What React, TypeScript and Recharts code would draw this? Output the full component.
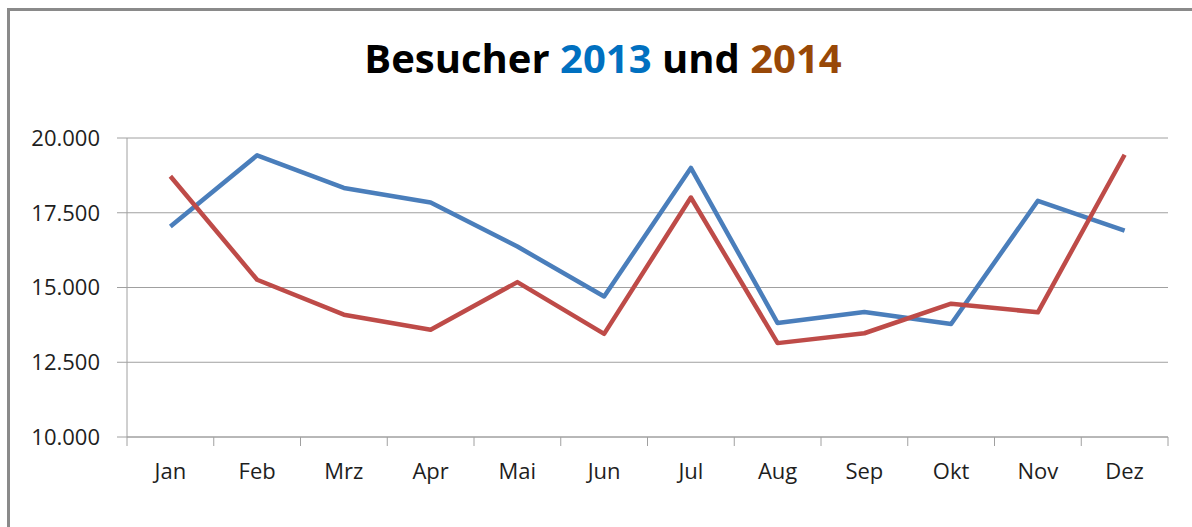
import { CartesianGrid, Line, LineChart, XAxis, YAxis } from 'recharts';

const months = ['Jan', 'Feb', 'Mrz', 'Apr', 'Mai', 'Jun', 'Jul', 'Aug', 'Sep', 'Okt', 'Nov', 'Dez'];
const visitors2013 = [17040, 19420, 18330, 17840, 16370, 14700, 19000, 13810, 14180, 13780, 17900, 16900];
const visitors2014 = [18720, 15260, 14090, 13590, 15180, 13450, 18010, 13140, 13470, 14460, 14170, 19440];
const yTicks = [10000, 12500, 15000, 17500, 20000];

const data = months.map((month, i) => ({
  month,
  y2013: visitors2013[i],
  y2014: visitors2014[i],
}));

const FONT = '"Open Sans", sans-serif';
const AXIS_GRAY = '#a0a0a0';

function formatThousands(v: number) {
  return String(v).replace(/\B(?=(\d{3})+(?!\d))/g, '.');
}

// Excel-style category axis: tick marks sit between months, labels in the middle
function MonthTick(props: any) {
  const { x, y, payload, index, visibleTicksCount } = props;
  const half = payload && payload.offset > 0 ? payload.offset : 43.4;
  const last = index === visibleTicksCount - 1;
  return (
    <g>
      <line x1={x - half} x2={x - half} y1={y} y2={y + 9} stroke={AXIS_GRAY} />
      {last && <line x1={x + half} x2={x + half} y1={y} y2={y + 9} stroke={AXIS_GRAY} />}
      <text x={x} y={y + 42} textAnchor="middle" fill="#1e1e1e" fontSize={22} fontFamily={FONT}>
        {payload.value}
      </text>
    </g>
  );
}

export default function App() {
  return (
    <div
      style={{
        position: 'fixed',
        left: 0,
        top: 0,
        width: 1192,
        height: 527,
        overflow: 'hidden',
        background: '#fff',
      }}
    >
      <div
        style={{
          position: 'absolute',
          left: 7,
          top: 8,
          width: 1300,
          height: 600,
          borderLeft: '3px solid #8a8a8a',
          borderTop: '3px solid #8a8a8a',
        }}
      />
      <svg width={1192} height={100} style={{ position: 'absolute', left: 0, top: 0 }}>
        <text x={603} y={73} textAnchor="middle" fontSize={40} fontWeight="bold" fontFamily={FONT} fill="#000">
          Besucher <tspan fill="#0070c0">2013</tspan> und <tspan fill="#984807">2014</tspan>
        </text>
      </svg>
      <div style={{ position: 'absolute', left: 0, top: 0 }}>
        <LineChart width={1192} height={527} data={data} margin={{ top: 138, right: 24, bottom: 50, left: 17 }}>
          <CartesianGrid vertical={false} stroke={AXIS_GRAY} />
          <XAxis
            dataKey="month"
            scale="band"
            height={40}
            axisLine={{ stroke: AXIS_GRAY }}
            tickLine={false}
            tickSize={0}
            tickMargin={0}
            interval={0}
            tick={<MonthTick />}
          />
          <YAxis
            width={110}
            domain={[10000, 20000]}
            ticks={yTicks}
            tickFormatter={formatThousands}
            tickSize={10}
            tickMargin={17}
            axisLine={{ stroke: AXIS_GRAY }}
            tickLine={{ stroke: AXIS_GRAY }}
            tick={{ fill: '#1e1e1e', fontSize: 22, fontFamily: FONT }}
          />
          <Line
            type="linear"
            dataKey="y2013"
            stroke="#4a7ebb"
            strokeWidth={4.5}
            dot={false}
            strokeLinejoin="round"
            isAnimationActive={false}
          />
          <Line
            type="linear"
            dataKey="y2014"
            stroke="#be4b48"
            strokeWidth={4.5}
            dot={false}
            strokeLinejoin="round"
            isAnimationActive={false}
          />
        </LineChart>
      </div>
    </div>
  );
}
